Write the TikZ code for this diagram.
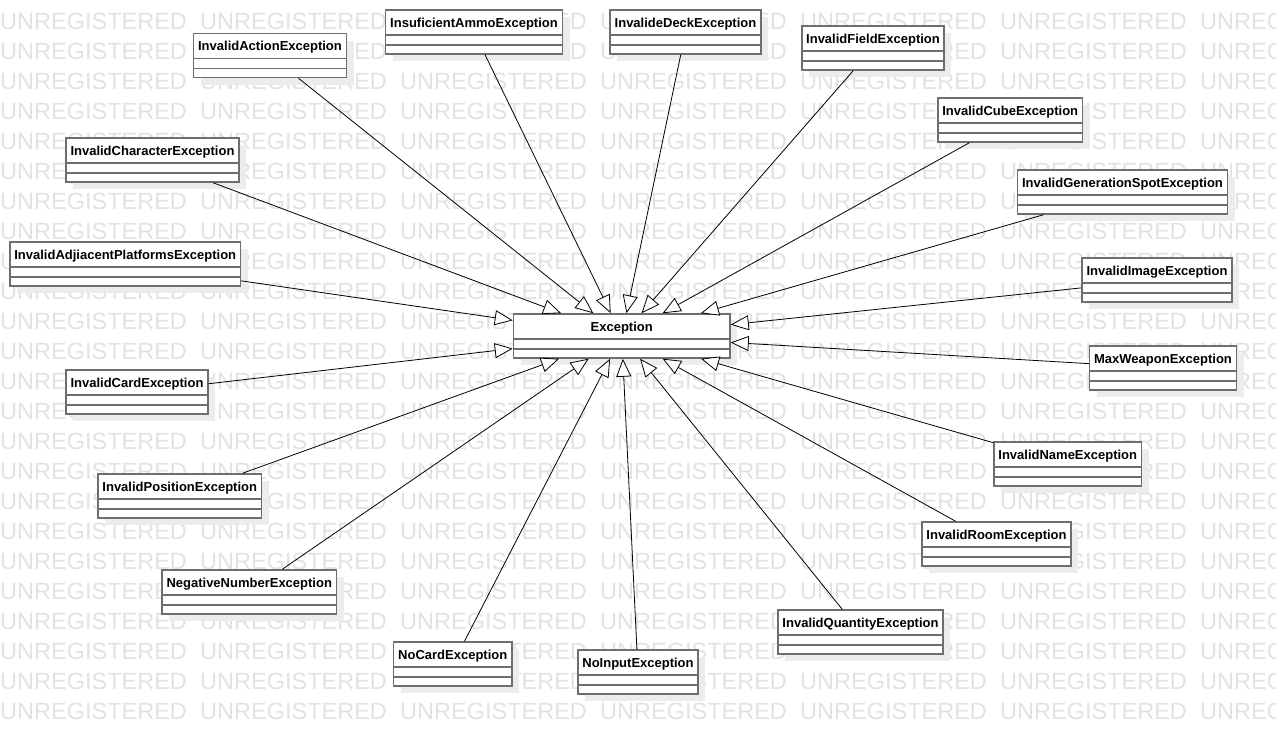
\documentclass[tikz,border=0pt]{standalone}
\usepackage{fontspec}
\setmainfont{Liberation Sans}
\usetikzlibrary{arrows.meta,shadows}
\definecolor{wmc}{RGB}{226,226,226}
\definecolor{shc}{RGB}{236,236,236}
\definecolor{bdc}{RGB}{110,110,110}
\begin{document}
\begin{tikzpicture}[x=1pt,y=-1pt,
  cls/.style={rectangle, draw=bdc, line width=1.5pt, fill=white, inner sep=0pt,
    minimum height=44pt, text height=17pt, text depth=27pt,
    font=\bfseries\fontsize{13}{13}\selectfont,
    general shadow={fill=shc, shadow xshift=7pt, shadow yshift=-7pt},
    path picture={
      \draw[bdc, line width=1.5pt] ([yshift=-25pt]path picture bounding box.north west) -- ([yshift=-25pt]path picture bounding box.north east);
      \draw[bdc, line width=1.5pt] ([yshift=-35pt]path picture bounding box.north west) -- ([yshift=-35pt]path picture bounding box.north east);
    }},
  gen/.style={line width=0.8pt, -{Triangle[length=18pt,width=15pt,fill=white,line width=0.8pt]}},
  wm/.style={anchor=base west, inner sep=0pt, text=wmc, font=\fontsize{23.5}{23.5}\selectfont}]
\useasboundingbox (0,0) rectangle (1276,734);
\clip (0,0) rectangle (1276,734);
% watermark
\foreach \r in {0,...,23}{
  \foreach \c in {0,...,6}{
    \node[wm] (wm-\r-\c) at (200*\c, 29.4+30*\r) {UNREGISTERED};
  }
}
% classes
\node[cls, minimum width=216.5pt] (exc) at (621.75,336) {Exception};
\node[cls, minimum width=153pt] (act) at (270,55.5) {InvalidActionException};
\node[cls, minimum width=177pt] (ammo) at (474,32) {InsuficientAmmoException};
\node[cls, minimum width=151pt] (deck) at (685.5,32) {InvalideDeckException};
\node[cls, minimum width=142pt] (field) at (873,48) {InvalidFieldException};
\node[cls, minimum width=144.5pt] (cube) at (1010.25,120) {InvalidCubeException};
\node[cls, minimum width=210pt] (gen) at (1122.5,192) {InvalidGenerationSpotException};
\node[cls, minimum width=150pt] (img) at (1157,280) {InvalidImageException};
\node[cls, minimum width=147pt] (maxw) at (1163,368) {MaxWeaponException};
\node[cls, minimum width=147.5pt] (name) at (1067.75,464) {InvalidNameException};
\node[cls, minimum width=149pt] (room) at (996.5,544) {InvalidRoomException};
\node[cls, minimum width=165pt] (qty) at (860.5,632) {InvalidQuantityException};
\node[cls, minimum width=120pt] (noin) at (638,672) {NoInputException};
\node[cls, minimum width=118.5pt] (nocard) at (452.75,664) {NoCardException};
\node[cls, minimum width=174.5pt] (neg) at (249.25,592) {NegativeNumberException};
\node[cls, minimum width=163.5pt] (pos) at (179.75,496) {InvalidPositionException};
\node[cls, minimum width=142pt] (card) at (137,392) {InvalidCardException};
\node[cls, minimum width=230.5pt] (adj) at (125.25,264) {InvalidAdjiacentPlatformsException};
\node[cls, minimum width=173pt] (char) at (152.5,160) {InvalidCharacterException};
% generalizations
\foreach \s in {act,ammo,deck,field,cube,gen,img,maxw,name,room,qty,noin,nocard,neg,pos,card,adj,char}{
  \draw[gen] (\s) -- (exc);
}
\end{tikzpicture}
\end{document}
